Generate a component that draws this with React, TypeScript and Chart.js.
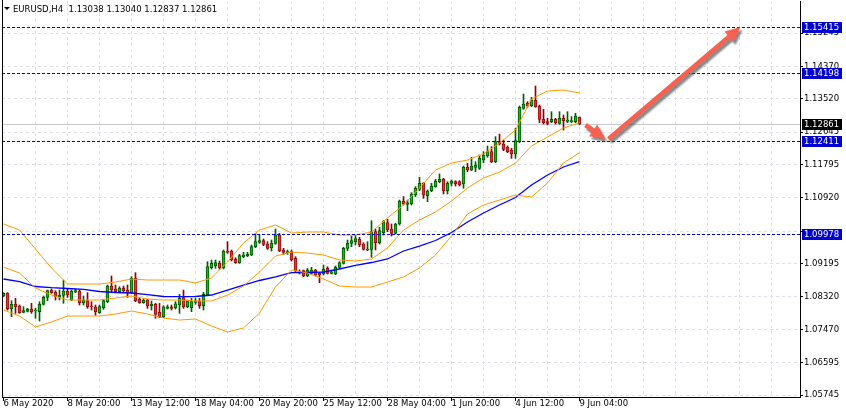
import React, { useEffect, useRef } from 'react';
import { Chart, registerables } from 'chart.js';

Chart.register(...registerables);

// EURUSD H4 candles, bar 0 = 6 May 2020 00:00
const opens = [
  1.08344, 1.08414, 1.08012, 1.08125, 1.08082, 1.07915, 1.07941, 1.08003, 1.07959, 1.07933,
  1.08125, 1.08309, 1.08501, 1.08449, 1.08326, 1.08361, 1.08475, 1.08239, 1.08458, 1.08475,
  1.08169, 1.08222, 1.08082, 1.08055, 1.07907, 1.08038, 1.08195, 1.08606, 1.08528, 1.08458,
  1.08554, 1.08501, 1.08431, 1.08808, 1.08257, 1.08169, 1.08239, 1.08090, 1.08125, 1.07915,
  1.07801, 1.08020, 1.08063, 1.08037, 1.08107, 1.08300, 1.08063, 1.08037, 1.08177, 1.08212,
  1.08090, 1.08370, 1.09087, 1.09140, 1.09201, 1.09087, 1.09525, 1.09525, 1.09315, 1.09218,
  1.09376, 1.09402, 1.09420, 1.09638, 1.09752, 1.09796, 1.09708, 1.09612, 1.09726, 1.09945,
  1.09551, 1.09481, 1.09507, 1.09332, 1.09000, 1.09008, 1.08868, 1.08938, 1.09026, 1.08938,
  1.08921, 1.09069, 1.08938, 1.08921, 1.09096, 1.09201, 1.09594, 1.09726, 1.09769, 1.09831,
  1.09708, 1.09551, 1.09568, 1.10032, 1.09743, 1.10006, 1.10268, 1.10102, 1.09988, 1.10233,
  1.10837, 1.10749, 1.10758, 1.10994, 1.11143, 1.11301, 1.10977, 1.11108, 1.11213, 1.11344,
  1.11406, 1.11108, 1.11300, 1.11344, 1.11344, 1.11283, 1.11720, 1.11650, 1.11720, 1.11694,
  1.11913, 1.12018, 1.12131, 1.11869, 1.12394, 1.12333, 1.12245, 1.12175, 1.12070, 1.12394,
  1.13269, 1.13400, 1.13339, 1.13488, 1.13330, 1.12980, 1.12919, 1.12919, 1.12980, 1.12875,
  1.13006, 1.12928, 1.12919, 1.12919, 1.13038,
];
const highs = [
  1.08431, 1.08431, 1.08222, 1.08283, 1.08108, 1.08064, 1.08020, 1.08152, 1.08020, 1.08195,
  1.08344, 1.08501, 1.08528, 1.08484, 1.08501, 1.08764, 1.08545, 1.08501, 1.08528, 1.08501,
  1.08344, 1.08431, 1.08195, 1.08108, 1.08108, 1.08257, 1.08633, 1.08869, 1.08633, 1.08589,
  1.08606, 1.08633, 1.08851, 1.08956, 1.08283, 1.08274, 1.08257, 1.08212, 1.08151, 1.08151,
  1.08090, 1.08107, 1.08107, 1.08195, 1.08387, 1.08501, 1.08238, 1.08282, 1.08282, 1.08282,
  1.08440, 1.09245, 1.09288, 1.09288, 1.09262, 1.09551, 1.09770, 1.09551, 1.09350, 1.09437,
  1.09490, 1.09490, 1.09682, 1.09988, 1.09945, 1.09840, 1.09770, 1.09813, 1.10102, 1.09988,
  1.09595, 1.09551, 1.09551, 1.09376, 1.09030, 1.09026, 1.09069, 1.09096, 1.09043, 1.08956,
  1.09157, 1.09113, 1.09008, 1.09131, 1.09244, 1.09621, 1.09813, 1.09918, 1.09944, 1.09883,
  1.09743, 1.09769, 1.10321, 1.10093, 1.10146, 1.10321, 1.10356, 1.10233, 1.10251, 1.10863,
  1.10951, 1.10863, 1.11056, 1.11213, 1.11458, 1.11318, 1.11126, 1.11301, 1.11406, 1.11546,
  1.11432, 1.11344, 1.11388, 1.11370, 1.11370, 1.11755, 1.11825, 1.11983, 1.11869, 1.12044,
  1.12131, 1.12280, 1.12263, 1.12525, 1.12595, 1.12438, 1.12280, 1.12219, 1.12744, 1.13330,
  1.13645, 1.13444, 1.13558, 1.13855, 1.13356, 1.13243, 1.13006, 1.13181, 1.13006, 1.13181,
  1.13094, 1.13181, 1.13050, 1.13138, 1.13040,
];
const lows = [
  1.08326, 1.07976, 1.07802, 1.07889, 1.07889, 1.07907, 1.07924, 1.07889, 1.07758, 1.07688,
  1.08108, 1.08222, 1.08414, 1.08239, 1.08239, 1.08152, 1.08309, 1.08222, 1.08431, 1.08108,
  1.08108, 1.08020, 1.07976, 1.07836, 1.07889, 1.07994, 1.08169, 1.08458, 1.08431, 1.08431,
  1.08449, 1.08309, 1.08414, 1.08195, 1.08152, 1.08152, 1.08020, 1.07976, 1.07757, 1.07775,
  1.07775, 1.08002, 1.07976, 1.08002, 1.07888, 1.08020, 1.08037, 1.07932, 1.08125, 1.08020,
  1.07976, 1.08352, 1.09052, 1.09070, 1.09052, 1.09052, 1.09463, 1.09262, 1.09201, 1.09201,
  1.09350, 1.09376, 1.09402, 1.09612, 1.09726, 1.09665, 1.09568, 1.09525, 1.09700, 1.09507,
  1.09437, 1.09437, 1.09262, 1.08982, 1.08920, 1.08851, 1.08851, 1.08921, 1.08868, 1.08693,
  1.08894, 1.08921, 1.08921, 1.08903, 1.09069, 1.09183, 1.09533, 1.09638, 1.09682, 1.09638,
  1.09551, 1.09533, 1.09358, 1.09551, 1.09708, 1.09944, 1.10032, 1.09918, 1.09971, 1.10207,
  1.10732, 1.10583, 1.10732, 1.10951, 1.11108, 1.10907, 1.10819, 1.11082, 1.11196, 1.11318,
  1.11021, 1.11021, 1.11230, 1.11230, 1.11230, 1.11169, 1.11606, 1.11633, 1.11606, 1.11668,
  1.11843, 1.11983, 1.11843, 1.11843, 1.12306, 1.12158, 1.12105, 1.11956, 1.11956, 1.12368,
  1.13243, 1.13295, 1.13313, 1.13295, 1.12893, 1.12858, 1.12831, 1.12893, 1.12858, 1.12849,
  1.12700, 1.12893, 1.12893, 1.12893, 1.12837,
];
const closes = [
  1.08414, 1.08012, 1.08125, 1.08064, 1.07907, 1.07959, 1.08003, 1.07933, 1.07976, 1.08125,
  1.08309, 1.08484, 1.08431, 1.08326, 1.08361, 1.08475, 1.08370, 1.08475, 1.08484, 1.08169,
  1.08239, 1.08064, 1.08064, 1.07933, 1.08064, 1.08222, 1.08606, 1.08501, 1.08458, 1.08554,
  1.08484, 1.08431, 1.08808, 1.08222, 1.08169, 1.08239, 1.08082, 1.08125, 1.07862, 1.07801,
  1.08063, 1.08063, 1.08020, 1.08142, 1.08282, 1.08055, 1.08212, 1.08195, 1.08212, 1.08090,
  1.08387, 1.09113, 1.09201, 1.09218, 1.09087, 1.09525, 1.09490, 1.09288, 1.09218, 1.09402,
  1.09420, 1.09437, 1.09638, 1.09770, 1.09796, 1.09700, 1.09595, 1.09726, 1.09945, 1.09525,
  1.09490, 1.09507, 1.09288, 1.09000, 1.08950, 1.08868, 1.09026, 1.09026, 1.08894, 1.08903,
  1.09043, 1.08938, 1.08973, 1.09096, 1.09218, 1.09594, 1.09726, 1.09796, 1.09848, 1.09682,
  1.09568, 1.09577, 1.10032, 1.09743, 1.10058, 1.10294, 1.10076, 1.09988, 1.10233, 1.10837,
  1.10758, 1.10793, 1.11021, 1.11169, 1.11301, 1.10994, 1.11099, 1.11231, 1.11362, 1.11406,
  1.11108, 1.11301, 1.11361, 1.11283, 1.11256, 1.11720, 1.11650, 1.11755, 1.11781, 1.11956,
  1.12044, 1.12131, 1.11869, 1.12394, 1.12333, 1.12193, 1.12131, 1.12070, 1.12420, 1.13295,
  1.13383, 1.13330, 1.13488, 1.13313, 1.12980, 1.12893, 1.12875, 1.12980, 1.12893, 1.13006,
  1.12945, 1.12963, 1.12945, 1.13068, 1.12861,
];

// indicator readings, one every 4 bars
const indBars = [0, 4, 8, 12, 16, 20, 24, 28, 32, 36, 40, 44, 48, 52, 56, 60, 64, 68, 72, 76, 80, 84, 88, 92, 96, 100, 104, 108, 112, 116, 120, 124, 128, 132, 136, 140, 144];
const bbUpper = [
  1.10233, 1.10076, 1.09577, 1.09079, 1.08659, 1.08659, 1.08659, 1.08711, 1.08790, 1.08764,
  1.08764, 1.08764, 1.08685, 1.08817, 1.09236, 1.09734, 1.10076, 1.10207, 1.09997, 1.10023,
  1.10023, 1.09944, 1.09944, 1.10023, 1.10391, 1.10732, 1.11178, 1.11650, 1.11834, 1.11912,
  1.12070, 1.12358, 1.12700, 1.13513, 1.13723, 1.13749, 1.13671,
];
const bbMiddle = [
  1.09105, 1.08948, 1.08554, 1.08370, 1.08239, 1.08239, 1.08239, 1.08291, 1.08344, 1.08265,
  1.08239, 1.08239, 1.08213, 1.08213, 1.08370, 1.08606, 1.08974, 1.09394, 1.09498, 1.09472,
  1.09420, 1.09289, 1.09263, 1.09315, 1.09603, 1.10076, 1.10338, 1.10548, 1.10837, 1.11178,
  1.11440, 1.11598, 1.11834, 1.12280, 1.12516, 1.12752, 1.12891,
];
const bbLower = [
  1.07976, 1.07819, 1.07531, 1.07662, 1.07819, 1.07819, 1.07819, 1.07872, 1.07950, 1.07872,
  1.07767, 1.07714, 1.07740, 1.07557, 1.07399, 1.07504, 1.07898, 1.08580, 1.09027, 1.08948,
  1.08790, 1.08606, 1.08580, 1.08580, 1.08711, 1.08843, 1.09079, 1.09420, 1.09918, 1.10495,
  1.10732, 1.10863, 1.10994, 1.10942, 1.11309, 1.11834, 1.12104,
];
const maValues = [
  1.08790, 1.08724, 1.08593, 1.08562, 1.08541, 1.08520, 1.08462, 1.08436, 1.08423, 1.08383,
  1.08331, 1.08326, 1.08331, 1.08370, 1.08501, 1.08632, 1.08751, 1.08843, 1.08955, 1.08961,
  1.08974, 1.09053, 1.09145, 1.09223, 1.09315, 1.09525, 1.09656, 1.09800, 1.10010, 1.10285,
  1.10522, 1.10732, 1.10928, 1.11256, 1.11519, 1.11729, 1.11868,
];

const timeLabels = ['6 May 2020', '8 May 20:00', '13 May 12:00', '18 May 04:00', '20 May 20:00', '25 May 12:00', '28 May 04:00', '1 Jun 20:00', '4 Jun 12:00', '9 Jun 04:00'];
const priceTicks = [1.15245, 1.14370, 1.13520, 1.12645, 1.11795, 1.10920, 1.10045, 1.09195, 1.08320, 1.07470, 1.06595, 1.05745];
const levels = [1.15415, 1.14198, 1.12411, 1.09978];
const lastPrice = 1.12861;
const headerText = 'EURUSD,H4  1.13038 1.13040 1.12837 1.12861';
// [fromBar, fromPrice, toBar, toPrice]
const arrows = [
  [145.5, 1.12831, 150.5, 1.12464],
  [151.25, 1.12464, 184.25, 1.15402],
];

const FONT = 'DejaVu Sans';
const GRID = '#dedeee';
const LEVEL_BLUE = '#0000d0';

const drawArrow = (ctx: CanvasRenderingContext2D, x0: number, y0: number, x1: number, y1: number) => {
  const len = Math.hypot(x1 - x0, y1 - y0);
  const head = 15;
  const hw = 7;
  const sw = 2.3;
  ctx.save();
  ctx.translate(x0, y0);
  ctx.rotate(Math.atan2(y1 - y0, x1 - x0));
  ctx.beginPath();
  ctx.moveTo(0, -sw);
  ctx.lineTo(len - head, -sw);
  ctx.lineTo(len - head, -hw);
  ctx.lineTo(len, 0);
  ctx.lineTo(len - head, hw);
  ctx.lineTo(len - head, sw);
  ctx.lineTo(0, sw);
  ctx.closePath();
  ctx.fill();
  ctx.restore();
};

const terminalPlugin = {
  id: 'terminal',
  beforeDraw(chart: Chart) {
    const { ctx } = chart;
    ctx.save();
    ctx.fillStyle = '#ffffff';
    ctx.fillRect(0, 0, chart.width, chart.height);
    ctx.restore();
  },
  beforeDatasetsDraw(chart: Chart) {
    const { ctx, chartArea: a, scales } = chart;
    const py = Math.round(scales.y.getPixelForValue(lastPrice)) + 0.5;
    ctx.save();
    ctx.strokeStyle = '#c8c8d6';
    ctx.lineWidth = 1;
    ctx.beginPath();
    ctx.moveTo(a.left, py);
    ctx.lineTo(a.right, py);
    ctx.stroke();
    ctx.restore();
  },
  afterDatasetsDraw(chart: Chart) {
    const { ctx, chartArea: a, scales } = chart;
    ctx.save();
    ctx.strokeStyle = LEVEL_BLUE;
    ctx.lineWidth = 1;
    ctx.setLineDash([3, 2]);
    levels.forEach((lv) => {
      const py = Math.round(scales.y.getPixelForValue(lv)) + 0.5;
      ctx.beginPath();
      ctx.moveTo(a.left, py);
      ctx.lineTo(a.right, py);
      ctx.stroke();
    });
    ctx.restore();

    ctx.save();
    ctx.fillStyle = '#f8614f';
    ctx.shadowColor = 'rgba(70,70,70,0.65)';
    ctx.shadowOffsetX = 2;
    ctx.shadowOffsetY = 3;
    ctx.shadowBlur = 2;
    arrows.forEach(([b0, p0, b1, p1]) => {
      drawArrow(
        ctx,
        scales.x.getPixelForValue(b0),
        scales.y.getPixelForValue(p0),
        scales.x.getPixelForValue(b1),
        scales.y.getPixelForValue(p1),
      );
    });
    ctx.restore();
  },
  afterDraw(chart: Chart) {
    const { ctx, chartArea: a, scales } = chart;
    ctx.save();
    // left frame line
    ctx.strokeStyle = '#000';
    ctx.lineWidth = 1;
    ctx.beginPath();
    ctx.moveTo(a.left + 0.5, 0);
    ctx.lineTo(a.left + 0.5, a.bottom + 1);
    ctx.stroke();

    // price boxes on the scale
    ctx.font = `8.5px "${FONT}"`;
    ctx.textBaseline = 'middle';
    const box = (price: number, bg: string) => {
      const py = Math.round(scales.y.getPixelForValue(price));
      ctx.fillStyle = bg;
      ctx.fillRect(a.right + 2, py - 5, 40, 11);
      ctx.fillStyle = '#fff';
      ctx.fillText(price.toFixed(5), a.right + 4, py + 0.5);
    };
    levels.forEach((lv) => box(lv, LEVEL_BLUE));
    box(lastPrice, '#000');

    // header
    ctx.fillStyle = '#000';
    ctx.beginPath();
    ctx.moveTo(4, 7);
    ctx.lineTo(10, 7);
    ctx.lineTo(7, 10);
    ctx.closePath();
    ctx.fill();
    ctx.fillText(headerText, 13, 10);
    ctx.restore();
  },
};

const buildConfig = (): any => {
  const bull = closes.map((c, i) => c >= opens[i]);
  const gridBars: number[] = [];
  for (let b = 0; b <= 199; b += 8) gridBars.push(b);
  const line = (values: number[], color: string, width: number) => ({
    type: 'line',
    data: values.map((v, k) => ({ x: indBars[k], y: v })),
    borderColor: color,
    borderWidth: width,
    pointRadius: 0,
    tension: 0,
    fill: false,
    order: -1,
  });

  return {
    type: 'bar',
    data: {
      datasets: [
        {
          label: 'wick',
          data: highs.map((h, i) => ({ x: i, y: [lows[i], h] })),
          backgroundColor: bull.map((u) => (u ? '#006000' : '#900000')),
          barThickness: 1,
          grouped: false,
          order: 1,
        },
        {
          label: 'body',
          data: opens.map((o, i) => ({ x: i, y: [Math.min(o, closes[i]), Math.max(o, closes[i])] })),
          backgroundColor: bull.map((u) => (u ? '#22b022' : '#e03434')),
          borderColor: bull.map((u) => (u ? '#005800' : '#8c1010')),
          borderWidth: 1,
          borderSkipped: false,
          barThickness: 3,
          grouped: false,
          order: 0,
        },
        line(bbUpper, '#ff9900', 1),
        line(bbMiddle, '#ff9900', 1),
        line(bbLower, '#ff9900', 1),
        line(maValues, '#0000ff', 1.3),
      ],
    },
    options: {
      responsive: false,
      animation: false,
      events: [],
      layout: { autoPadding: false, padding: { left: 2, top: 1, right: 0, bottom: 0 } },
      plugins: { legend: { display: false }, tooltip: { enabled: false } },
      scales: {
        x: {
          type: 'linear',
          min: -0.375,
          max: 199.125,
          offset: false,
          afterBuildTicks: (s: any) => {
            s.ticks = gridBars.map((v) => ({ value: v }));
          },
          afterFit: (s: any) => {
            s.height = 22;
            s.paddingLeft = 0;
            s.paddingRight = 0;
            s.paddingTop = 0;
            s.paddingBottom = 0;
          },
          ticks: {
            autoSkip: false,
            maxRotation: 0,
            align: 'start',
            padding: -2,
            color: '#000',
            font: { family: FONT, size: 8.5 },
            callback: (v: number) => (v % 16 === 0 && v / 16 < timeLabels.length ? timeLabels[v / 16] : ''),
          },
          grid: {
            offset: false,
            color: (c: any) => (c.tick && c.tick.value === 0 ? 'rgba(0,0,0,0)' : GRID),
            tickColor: (c: any) => (c.tick && c.tick.value % 16 === 0 && c.tick.value <= 144 ? '#000' : 'rgba(0,0,0,0)'),
            tickLength: 4,
          },
          border: { display: true, color: '#000', dash: [3, 3] },
        },
        y: {
          type: 'linear',
          position: 'right',
          min: 1.05694,
          max: 1.16085,
          afterBuildTicks: (s: any) => {
            s.ticks = priceTicks.map((v) => ({ value: v }));
          },
          afterFit: (s: any) => {
            s.width = 46;
            s.paddingLeft = 0;
            s.paddingRight = 0;
            s.paddingTop = 0;
            s.paddingBottom = 0;
          },
          ticks: {
            autoSkip: false,
            padding: 1,
            color: '#000',
            font: { family: FONT, size: 8.5 },
            // a scale label that sits under a level tag is not shown
            callback: (v: number) => (levels.some((lv) => Math.abs(lv - v) < 0.0008) ? '' : v.toFixed(5)),
          },
          grid: { color: GRID, tickColor: '#000', tickLength: 3 },
          border: { display: true, color: '#000', dash: [3, 3] },
        },
      },
    },
    plugins: [terminalPlugin],
  };
};

const App: React.FC = () => {
  const canvasRef = useRef<HTMLCanvasElement | null>(null);
  const chartRef = useRef<Chart | null>(null);

  useEffect(() => {
    document.body.style.margin = '0';
    const canvas = canvasRef.current;
    if (!canvas) return;
    const ctx = canvas.getContext('2d');
    if (!ctx) return;
    if (chartRef.current) chartRef.current.destroy();
    chartRef.current = new Chart(ctx, buildConfig());
    return () => {
      if (chartRef.current) {
        chartRef.current.destroy();
        chartRef.current = null;
      }
    };
  }, []);

  return (
    <div style={{ position: 'absolute', left: 0, top: 0, width: 846, height: 419, background: '#fff' }}>
      <canvas ref={canvasRef} width={846} height={419} style={{ display: 'block' }} />
    </div>
  );
};

export default App;
